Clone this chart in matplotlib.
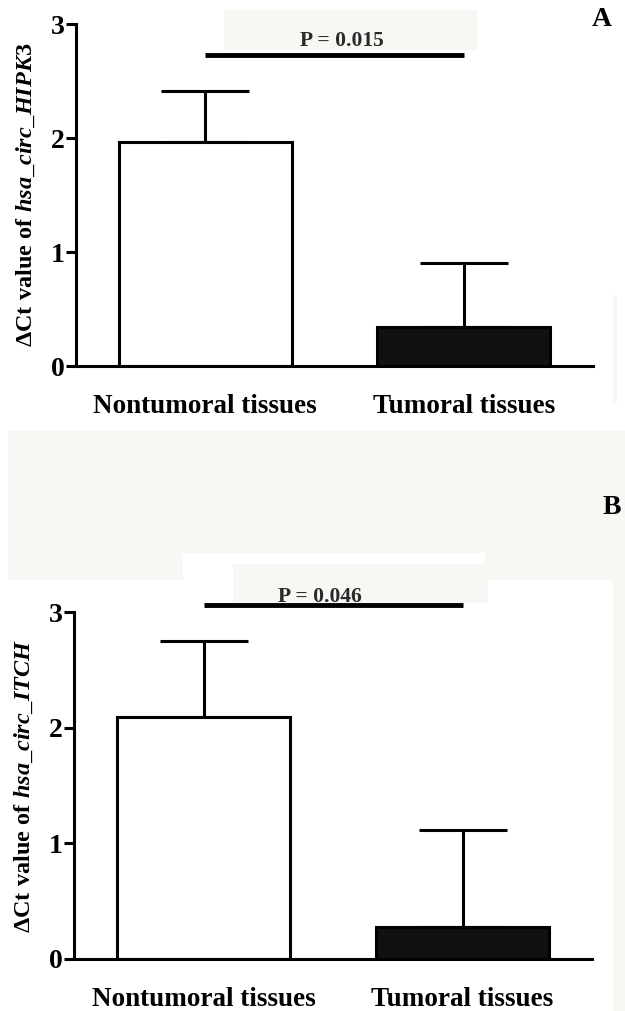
import numpy as np
import matplotlib.pyplot as plt
from matplotlib.patches import Rectangle

plt.rcParams['font.family'] = ['Liberation Serif', 'DejaVu Serif']
plt.rcParams['font.weight'] = 'bold'
plt.rcParams['mathtext.fontset'] = 'custom'
plt.rcParams['mathtext.it'] = 'Liberation Serif:italic:bold'
plt.rcParams['mathtext.rm'] = 'Liberation Serif:bold'
plt.rcParams['mathtext.bf'] = 'Liberation Serif:bold'

# data
groups = ['Nontumoral tissues', 'Tumoral tissues']
means_a = [1.965, 0.34]
err_a = [0.445, 0.565]
means_b = [2.09, 0.28]
err_b = [0.655, 0.835]
p_a = 'P = 0.015'
p_b = 'P = 0.046'
sig_y = [2.73, 3.06]
genes = ['HIPK3', 'ITCH']
panels = ['A', 'B']

W, H = 625, 1011
fig = plt.figure(figsize=(W / 100, H / 100), dpi=100)

def px(x0, y0, x1, y1):
    # pixel box -> figure fraction rect
    return [x0 / W, 1 - y1 / H, (x1 - x0) / W, (y1 - y0) / H]

# faint scan patches in the background
bg = '#f6f8f3'
for (x0, y0, x1, y1, c) in [(224, 10, 477, 50, bg),
                            (8, 431, 625, 580, bg),
                            (183, 553, 485, 580, 'white'),
                            (233, 564, 488, 603, bg),
                            (613, 580, 625, 1011, bg),
                            (613, 295, 617, 403, bg)]:
    r = px(x0, y0, x1, y1)
    fig.patches.append(Rectangle((r[0], r[1]), r[2], r[3], transform=fig.transFigure,
                                 facecolor=c, edgecolor='none', zorder=-10))

ax_a = fig.add_axes(px(76, 24, 593, 366))
ax_b = fig.add_axes(px(74, 612, 592, 959))

lw = 2.2
x = np.arange(len(groups))
for ax, means, errs, ptxt, sy, gene, pxy in [
        (ax_a, means_a, err_a, p_a, sig_y[0], genes[0], (0.528, 2.85)),
        (ax_b, means_b, err_b, p_b, sig_y[1], genes[1], (0.45, 3.13))]:
    ax.set_facecolor('none')
    ax.bar(x, means, width=0.67, color=['white', '#111111'], edgecolor='black',
           linewidth=lw, zorder=2)
    ax.errorbar(x, means, yerr=[np.zeros(len(errs)), errs], fmt='none', ecolor='black',
                elinewidth=lw, capsize=31.5, capthick=lw, zorder=1)
    ax.plot([0, 1], [sy, sy], color='black', lw=3.5, clip_on=False, solid_capstyle='butt')
    ax.text(pxy[0], pxy[1], ptxt, ha='center', va='center', fontsize=15.5,
            color='#2a2a2a', clip_on=False)
    ax.set_xlim(-0.5, 1.5)
    ax.set_ylim(0, 3)
    ax.set_yticks([0, 1, 2, 3])
    ax.set_xticks(x)
    ax.set_xticklabels(groups, fontsize=19.5)
    ax.tick_params(axis='x', length=0, pad=20)
    ax.tick_params(axis='y', length=7, width=lw, labelsize=20, pad=1)
    for s in ['top', 'right']:
        ax.spines[s].set_visible(False)
    for s in ['left', 'bottom']:
        ax.spines[s].set_linewidth(lw)
    ax.set_ylabel(r'$\mathbf{\Delta Ct\ value\ of}\ \mathit{hsa\_circ\_' + gene + '}$',
                  fontsize=17.5)
    ax.yaxis.set_label_coords(-0.075, 0.5)

fig.text(602 / W, 1 - 20 / H, panels[0], fontsize=20, ha='center', va='center')
fig.text(612 / W, 1 - 508 / H, panels[1], fontsize=20, ha='center', va='center')

fig.savefig('out.png', dpi=100)
